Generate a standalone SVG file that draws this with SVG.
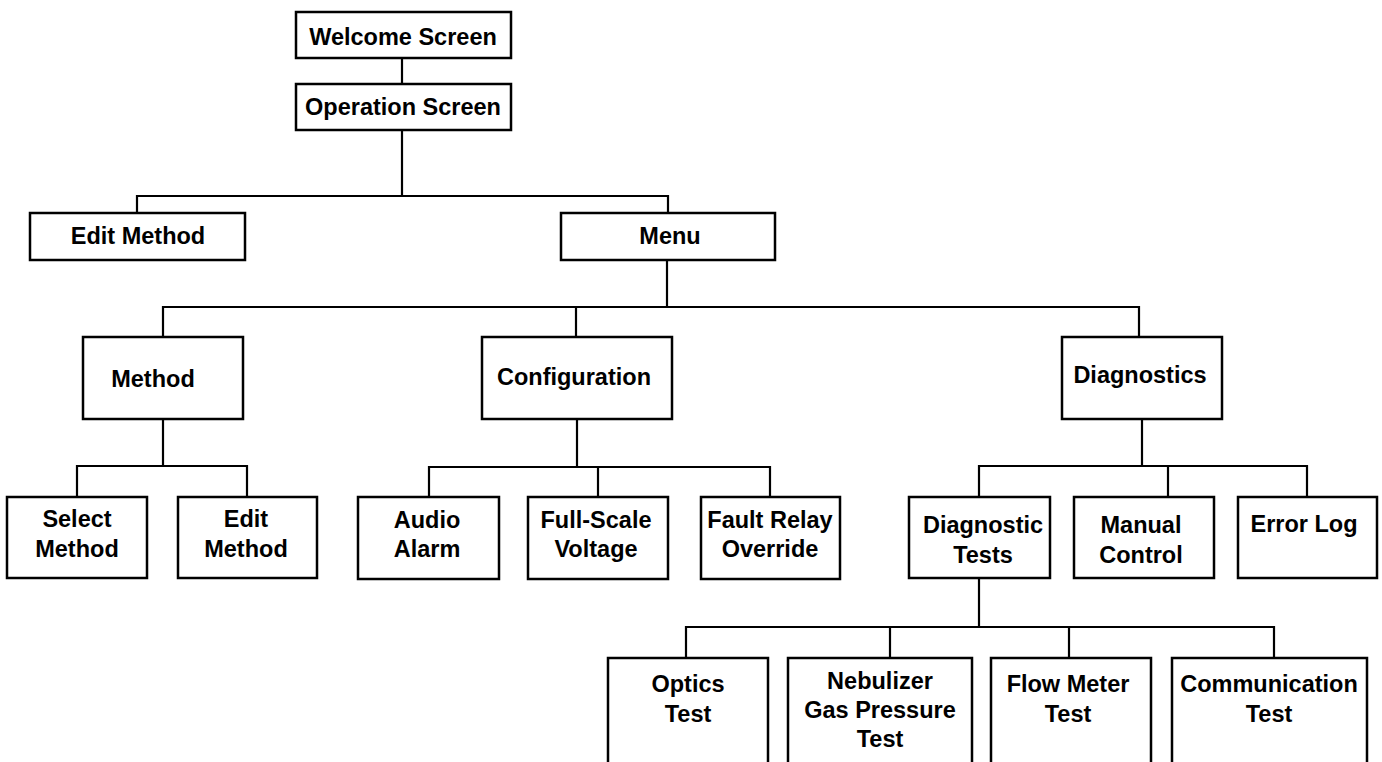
<svg xmlns="http://www.w3.org/2000/svg" width="1382" height="762" viewBox="0 0 1382 762">
<style>
.box{fill:#fff;stroke:#000;stroke-width:2.5}
.ln{fill:none;stroke:#000;stroke-width:2.2}
text{font-family:"Liberation Sans",Arial,sans-serif;font-weight:bold;font-size:23.5px;text-anchor:middle;fill:#000}
</style>
<rect width="1382" height="762" fill="#fff"/>
<g id="connectors">
<path class="ln" d="M402 58V84"/>
<path class="ln" d="M402 130V196"/>
<path class="ln" d="M137 213V196H668V213"/>
<path class="ln" d="M667 260V307"/>
<path class="ln" d="M163 337V307H1139V337"/>
<path class="ln" d="M576 307V337"/>
<path class="ln" d="M163 419V466"/>
<path class="ln" d="M77 497V466H247V497"/>
<path class="ln" d="M577 419V467"/>
<path class="ln" d="M429 497V467H770V497"/>
<path class="ln" d="M598 467V497"/>
<path class="ln" d="M1142 419V466"/>
<path class="ln" d="M979 497V466H1307V497"/>
<path class="ln" d="M1168 466V497"/>
<path class="ln" d="M979 578V627"/>
<path class="ln" d="M686 658V627H1274V658"/>
<path class="ln" d="M890 627V658"/>
<path class="ln" d="M1069 627V658"/>
</g>
<g id="welcome"><rect class="box" x="296" y="12" width="215" height="46"/><text x="403" y="45">Welcome Screen</text></g>
<g id="operation"><rect class="box" x="296" y="84" width="215" height="46"/><text x="403" y="115">Operation Screen</text></g>
<g id="edit-method-top"><rect class="box" x="30" y="213" width="215" height="47"/><text x="138" y="244">Edit Method</text></g>
<g id="menu"><rect class="box" x="561" y="213" width="214" height="47"/><text x="670" y="244">Menu</text></g>
<g id="method"><rect class="box" x="83" y="337" width="160" height="82"/><text x="153" y="387">Method</text></g>
<g id="configuration"><rect class="box" x="482" y="337" width="190" height="82"/><text x="574" y="385">Configuration</text></g>
<g id="diagnostics"><rect class="box" x="1062" y="337" width="160" height="82"/><text x="1140" y="383">Diagnostics</text></g>
<g id="select-method"><rect class="box" x="7" y="497" width="140" height="81"/><text x="77" y="527">Select</text><text x="77" y="557">Method</text></g>
<g id="edit-method"><rect class="box" x="178" y="497" width="139" height="81"/><text x="246" y="527">Edit</text><text x="246" y="557">Method</text></g>
<g id="audio-alarm"><rect class="box" x="358" y="497" width="141" height="82"/><text x="427" y="528">Audio</text><text x="427" y="557">Alarm</text></g>
<g id="full-scale"><rect class="box" x="528" y="497" width="140" height="82"/><text x="596" y="528">Full-Scale</text><text x="596" y="557">Voltage</text></g>
<g id="fault-relay"><rect class="box" x="701" y="497" width="139" height="82"/><text x="770" y="528">Fault Relay</text><text x="770" y="557">Override</text></g>
<g id="diagnostic-tests"><rect class="box" x="909" y="497" width="141" height="81"/><text x="983" y="533">Diagnostic</text><text x="983" y="563">Tests</text></g>
<g id="manual-control"><rect class="box" x="1074" y="497" width="140" height="81"/><text x="1141" y="533">Manual</text><text x="1141" y="563">Control</text></g>
<g id="error-log"><rect class="box" x="1238" y="497" width="139" height="81"/><text x="1304" y="532">Error Log</text></g>
<g id="optics-test"><rect class="box" x="608" y="658" width="160" height="130"/><text x="688" y="692">Optics</text><text x="688" y="722">Test</text></g>
<g id="nebulizer"><rect class="box" x="788" y="658" width="184" height="130"/><text x="880" y="689">Nebulizer</text><text x="880" y="718">Gas Pressure</text><text x="880" y="747">Test</text></g>
<g id="flow-meter"><rect class="box" x="991" y="658" width="160" height="130"/><text x="1068" y="692">Flow Meter</text><text x="1068" y="722">Test</text></g>
<g id="communication"><rect class="box" x="1172" y="658" width="195" height="130"/><text x="1269" y="692">Communication</text><text x="1269" y="722">Test</text></g>
</svg>
